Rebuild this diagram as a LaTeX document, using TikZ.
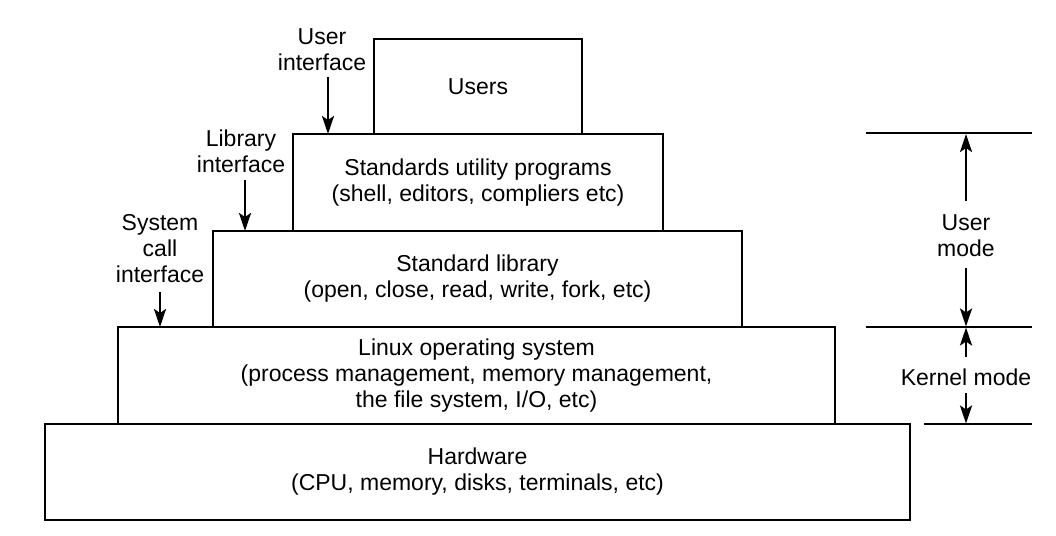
\documentclass[tikz,border=0pt]{standalone}
\usepackage{fontspec}
\setmainfont{Liberation Sans}
\usetikzlibrary{arrows.meta}
\begin{document}
\begin{tikzpicture}[x=1pt,y=-1pt,
  layer/.style={draw, line width=1.9pt, inner sep=0pt, align=center,
    font=\fontsize{23}{26}\selectfont},
  lbl/.style={align=center, inner sep=0pt, font=\fontsize{23}{26}\selectfont},
  arr/.style={line width=2.6pt, -{Stealth[length=18pt,width=12pt,inset=4pt]}},
  sep/.style={line width=1.3pt}]
\useasboundingbox (0,0) rectangle (1056,535);
\node[layer, minimum width=208pt, minimum height=95pt] (users) at (478,86.5) {Users};
\node[layer, minimum width=370pt, minimum height=97pt] (util) at (478,182.5)
  {Standards utility programs\\(shell, editors, compliers etc)};
\node[layer, minimum width=529pt, minimum height=96pt] (lib) at (477.5,279)
  {Standard library\\(open, close, read, write, fork, etc)};
\node[layer, minimum width=717pt, minimum height=97pt] (os) at (476.5,375.5)
  {Linux operating system\\(process management, memory management,\\the file system, I/O, etc)};
\node[layer, minimum width=865pt, minimum height=96pt] (hw) at (477.5,472)
  {Hardware\\(CPU, memory, disks, terminals, etc)};

% left interface labels
\node[lbl] (ui) at (322,50) {User\\interface};
\coordinate (uiS) at (328,77);
\coordinate (uiT) at (328,134);
\draw[arr] (uiS) -- (uiT);
\node[lbl] (li) at (241,151.5) {Library\\interface};
\coordinate (liS) at (245,180);
\coordinate (liT) at (245,231);
\draw[arr] (liS) -- (liT);
\node[lbl] (si) at (160,249) {System\\call\\interface};
\coordinate (siS) at (160,292);
\coordinate (siT) at (160,327);
\draw[arr] (siS) -- (siT);

% right mode markers
\coordinate (l1a) at (866,133); \coordinate (l1b) at (1032,133);
\coordinate (l2a) at (866,327); \coordinate (l2b) at (1032,327);
\coordinate (l3a) at (924,424); \coordinate (l3b) at (1032,424);
\draw[sep] (l1a) -- (l1b);
\draw[sep] (l2a) -- (l2b);
\draw[sep] (l3a) -- (l3b);
\node[lbl] (um) at (966,236) {User\\mode};
\node[lbl] (km) at (966,377) {Kernel mode};
\coordinate (u1) at (966,134); \coordinate (u2) at (966,326.5);
\coordinate (k1) at (966,327.5); \coordinate (k2) at (966,423.5);
\coordinate (uS1) at (966,201); \coordinate (uS2) at (966,268);
\coordinate (kS1) at (966,357); \coordinate (kS2) at (966,393);
\draw[arr] (uS1) -- (u1);
\draw[arr] (uS2) -- (u2);
\draw[arr] (kS1) -- (k1);
\draw[arr] (kS2) -- (k2);
\end{tikzpicture}
\end{document}
